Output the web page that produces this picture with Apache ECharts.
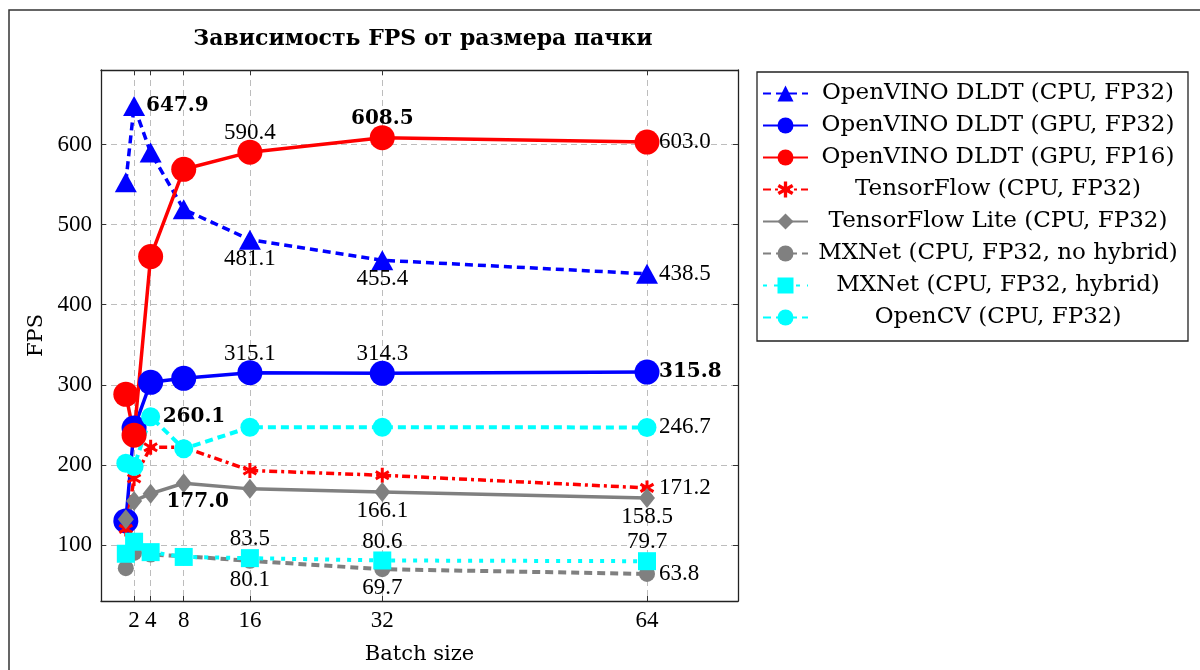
<!DOCTYPE html>
<html>
<head>
<meta charset="utf-8">
<script src="https://cdn.jsdelivr.net/npm/echarts@6/dist/echarts.min.js"></script>
<style>
  html, body { margin: 0; padding: 0; background: #fff; }
  #chart { width: 1200px; height: 670px; }
</style>
</head>
<body>
<div id="chart"></div>
<script>
// batch sizes on the x axis
const batchSizes = [1, 2, 4, 8, 16, 32, 64]
const xTicks = [2, 4, 8, 16, 32, 64]
const yTicks = [100, 200, 300, 400, 500, 600]

// FPS per framework
const cpuFp32 = [553, 647.9, 590, 519, 481.1, 455.4, 438.5]
const gpuFp32 = [130, 246, 303, 308, 315.1, 314.3, 315.8]
const gpuFp16 = [288, 237, 460, 569, 590.4, 608.5, 603.0]
const tfCpu = [120, 183, 222, 222, 193, 187, 171.2]
const tfLite = [132, 155, 164, 177.0, 170, 166.1, 158.5]
const mxnetNoHybrid = [71, 90, 88, 86, 80.1, 69.7, 63.8]
const mxnetHybrid = [89, 104, 91, 85, 83.5, 80.6, 79.7]
const opencv = [202, 198, 260.1, 220, 247, 247, 246.7]

const seriesNames = [
  'OpenVINO DLDT (CPU, FP32)',
  'OpenVINO DLDT (GPU, FP32)',
  'OpenVINO DLDT (GPU, FP16)',
  'TensorFlow (CPU, FP32)',
  'TensorFlow Lite (CPU, FP32)',
  'MXNet (CPU, FP32, no hybrid)',
  'MXNet (CPU, FP32, hybrid)',
  'OpenCV (CPU, FP32)'
]

const numFont = 'Liberation Serif'
const textFont = 'DejaVu Serif'

// asterisk mark (three crossing bars)
const asterisk = 'path://M-2,-10L2,-10L2,10L-2,10ZM7.66,-6.73L9.66,-3.27L-7.66,6.73L-9.66,3.27ZM9.66,3.27L7.66,6.73L-9.66,-3.27L-7.66,-6.73Z'

// где подписывать точки: индекс, сторона, жирный
const labelAt = (side, bold) => {
  const base = {
    show: true,
    position: 'inside',
    color: '#000',
    fontFamily: bold ? textFont : numFont,
    fontSize: bold ? 20 : 23,
    fontWeight: bold ? 'bold' : 'normal',
    verticalAlign: 'middle',
    formatter: p => p.value[1].toFixed(1)
  }
  if (side === 'right') return { ...base, align: 'left', offset: [12, 0] }
  if (side === 'top') return { ...base, align: 'center', offset: [0, -19] }
  if (side === 'bottomRight') return { ...base, align: 'center', offset: [14, 19] }
  return { ...base, align: 'center', offset: [0, 19] }
}

const build = (values, labels) =>
  values.map((v, i) => {
    const item = { value: [batchSizes[i], v] }
    if (labels[i]) item.label = labelAt(labels[i][0], labels[i][1])
    return item
  })

const line = (name, values, labels, color, type, width, symbol, size) => ({
  name,
  type: 'line',
  data: build(values, labels),
  symbol,
  symbolSize: size,
  symbolKeepAspect: true,
  showAllSymbol: true,
  color,
  lineStyle: { color, width, type },
  itemStyle: { color, opacity: 1 },
  label: { show: false },
  emphasis: { disabled: true },
  animation: false
})

const chart = echarts.init(document.getElementById('chart'))

const axisLine = { show: true, onZero: false, lineStyle: { color: '#222', width: 1.3 } }
const tick = (vals) => ({ show: true, inside: true, length: 5, customValues: vals, lineStyle: { color: '#333', width: 1 } })
const grid = { show: true, lineStyle: { color: '#bdbdbd', width: 1, type: [6, 4] } }

chart.setOption({
  backgroundColor: '#fff',
  title: {
    text: 'Зависимость FPS от размера пачки',
    left: 418,
    top: 23,
    textAlign: 'center',
    textStyle: { fontFamily: textFont, fontSize: 22, fontWeight: 'bold', color: '#000' }
  },
  graphic: [
    {
      type: 'rect',
      shape: { x: 9, y: 10, width: 1400, height: 900 },
      style: { fill: 'none', stroke: '#333', lineWidth: 1.5 },
      silent: true
    }
  ],
  legend: {
    orient: 'vertical',
    left: 757,
    top: 72,
    padding: [10, 5, 12, 5],
    itemWidth: 45,
    itemHeight: 20,
    itemGap: 9,
    borderColor: '#222',
    borderWidth: 1.3,
    selectedMode: false,
    data: seriesNames,
    formatter: n => `{c|${n}}`,
    textStyle: {
      color: '#000',
      fontFamily: textFont,
      fontSize: 23,
      rich: { c: { width: 370, align: 'center', fontFamily: textFont, fontSize: 23, lineHeight: 22 } }
    }
  },
  grid: { left: 101, top: 70, right: 462, bottom: 67 },
  xAxis: [
    {
      type: 'value',
      min: -2,
      max: 75,
      name: 'Batch size',
      nameLocation: 'middle',
      nameGap: 43,
      nameTextStyle: { fontFamily: textFont, fontSize: 21, color: '#000' },
      axisLine,
      axisTick: tick(xTicks),
      axisLabel: { customValues: xTicks, fontFamily: numFont, fontSize: 23, color: '#000', margin: 8 },
      splitLine: grid
    },
    {
      type: 'value',
      position: 'top',
      min: -2,
      max: 75,
      axisLine,
      axisTick: tick(xTicks),
      axisLabel: { show: false },
      splitLine: { show: false }
    }
  ],
  yAxis: [
    {
      type: 'value',
      min: 30,
      max: 693,
      name: 'FPS',
      nameLocation: 'middle',
      nameGap: 47,
      nameTextStyle: { fontFamily: textFont, fontSize: 21, color: '#000' },
      axisLine,
      axisTick: tick(yTicks),
      axisLabel: { customValues: yTicks, fontFamily: numFont, fontSize: 23, color: '#000', margin: 9 },
      splitLine: grid
    },
    {
      type: 'value',
      position: 'right',
      min: 30,
      max: 693,
      axisLine,
      axisTick: tick(yTicks),
      axisLabel: { show: false },
      splitLine: { show: false }
    }
  ],
  series: [
    line(seriesNames[0], cpuFp32, { 1: ['right', true], 4: ['bottom'], 5: ['bottom'], 6: ['right'] },
      '#0000ff', [8, 5], 3.5, 'triangle', [22, 20]),
    line(seriesNames[1], gpuFp32, { 4: ['top'], 5: ['top'], 6: ['right', true] },
      '#0000ff', 'solid', 3.5, 'circle', 25),
    line(seriesNames[2], gpuFp16, { 4: ['top'], 5: ['top', true], 6: ['right'] },
      '#ff0000', 'solid', 3.5, 'circle', 25),
    line(seriesNames[3], tfCpu, { 6: ['right'] },
      '#ff0000', [8, 4, 3, 4], 3.5, asterisk, 15),
    line(seriesNames[4], tfLite, { 3: ['bottomRight', true], 5: ['bottom'], 6: ['bottom'] },
      '#808080', 'solid', 3.5, 'diamond', [16, 20]),
    line(seriesNames[5], mxnetNoHybrid, { 4: ['bottom'], 5: ['bottom'], 6: ['right'] },
      '#808080', [8, 5], 4, 'circle', 16),
    line(seriesNames[6], mxnetHybrid, { 4: ['top'], 5: ['top'], 6: ['top'] },
      '#00ffff', [4, 7], 4, 'rect', 18),
    line(seriesNames[7], opencv, { 2: ['right', true], 6: ['right'] },
      '#00ffff', [8, 5], 4, 'circle', 19)
  ]
})
</script>
</body>
</html>
